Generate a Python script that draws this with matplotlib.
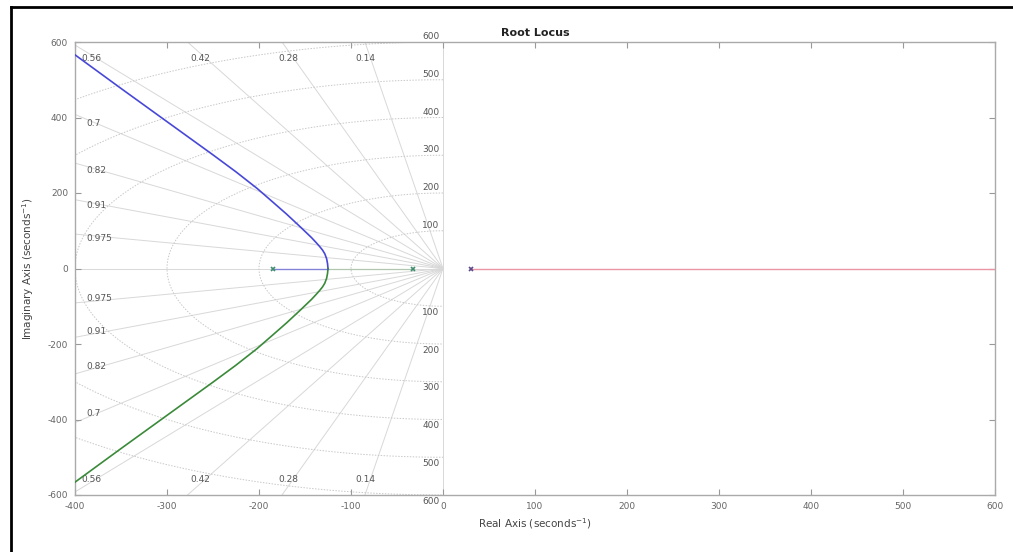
import numpy as np
import matplotlib.pyplot as plt
from matplotlib.lines import Line2D

plt.rcParams['font.family'] = ['DejaVu Sans']
plt.rcParams['axes.unicode_minus'] = False

# poles (real parts) and their marker colours
pole_re = [-185, -33, 30]
pole_colors = ['#3f8f6f', '#3f8f6f', '#5a4a8a']

# upper branch (blue)
upper_re = [-125, -125.5, -126.5, -128.5, -131, -134, -138, -143, -149, -155,
            -170, -185, -202, -225, -250, -275, -300, -350, -400]
upper_im = [0, 13, 26, 39, 49, 58, 69, 82, 96, 110,
            144, 176, 212, 256, 301, 345, 389, 477, 566]
# lower branch (green)
lower_re = [-125, -125.5, -126.5, -128.5, -131, -134, -138, -143, -149, -155,
            -170, -185, -202, -225, -250, -275, -300, -350, -400]
lower_im = [0, -13, -26, -39, -49, -58, -69, -82, -96, -110,
            -144, -176, -212, -256, -301, -345, -389, -477, -566]

# real-axis parts of the branches
blue_real = [-185, -125]
green_real = [-33, -125]
red_real = [30, 600]

# grid values
zeta_vals = [0.14, 0.28, 0.42, 0.56, 0.7, 0.82, 0.91, 0.975]
zeta_labels = ['0.14', '0.28', '0.42', '0.56', '0.7', '0.82', '0.91', '0.975']
wn_vals = [100, 200, 300, 400, 500, 600]

xmin, xmax, ymin, ymax = -400, 600, -600, 600

fig = plt.figure(figsize=(10.13, 5.52), dpi=100)
ax = fig.add_axes([75 / 1013, 1 - 495 / 552, 920 / 1013, 453 / 552])

grid_c = '#d8d8d8'
# damping lines
for z in zeta_vals:
    t = np.sqrt(1 - z ** 2) / z
    for s in (1, -1):
        ax.plot([0, -2000], [0, s * 2000 * t], color=grid_c, lw=0.7, zorder=1)
ax.plot([xmin, 0], [0, 0], color=grid_c, lw=0.7, zorder=1)
ax.plot([0, 0], [ymin, ymax], color=grid_c, lw=0.7, zorder=1)

# natural frequency semicircles
th = np.linspace(np.pi / 2, 3 * np.pi / 2, 300)
for wn in wn_vals:
    ax.plot(wn * np.cos(th), wn * np.sin(th), color='#c8c8c8', lw=0.7,
            ls=(0, (1.5, 1.5)), zorder=1)

lab_c = '#555555'
fs = 6.5
# damping labels
for z, lab in zip(zeta_vals, zeta_labels):
    t = np.sqrt(1 - z ** 2) / z
    x_top = -557 / t
    if x_top > -385:
        ax.text(x_top - 6, 557, lab, ha='center', va='center', fontsize=fs, color=lab_c)
        ax.text(x_top - 6, -560, lab, ha='center', va='center', fontsize=fs, color=lab_c)
    else:
        yy = min(385 * t - 8, 557)
        ax.text(-388, yy, lab, ha='left', va='center', fontsize=fs, color=lab_c)
        ax.text(-388, -yy, lab, ha='left', va='center', fontsize=fs, color=lab_c)

# frequency labels along the imaginary axis
for wn in wn_vals:
    ax.text(-4, wn + 14, str(wn), ha='right', va='center', fontsize=fs, color=lab_c)
    ax.text(-4, -wn - 16, str(wn), ha='right', va='center', fontsize=fs, color=lab_c)

# locus branches
blue = '#4848d8'
green = '#3a8a3a'
red = '#ec94a4'
ax.plot(upper_re, upper_im, color=blue, lw=1.2, zorder=3)
ax.plot(lower_re, lower_im, color=green, lw=1.2, zorder=3)
ax.plot(blue_real, [0, 0], color=blue, lw=1.0, alpha=0.6, zorder=3)
ax.plot(green_real, [0, 0], color=green, lw=1.0, alpha=0.25, zorder=3)
ax.plot(red_real, [0, 0], color=red, lw=1.0, zorder=3)
for p, c in zip(pole_re, pole_colors):
    ax.plot(p, 0, marker='x', ms=3.5, mew=1.2, color=c, zorder=4)

ax.set_xlim(xmin, xmax)
ax.set_ylim(ymin, ymax)
ax.set_xticks(np.arange(-400, 601, 100))
ax.set_yticks(np.arange(-600, 601, 200))
ax.tick_params(direction='in', length=4, width=0.8, colors='#999999',
               labelcolor='#666666', labelsize=6.5, top=True, right=True, pad=5)
for sp in ax.spines.values():
    sp.set_color('#aaaaaa')
    sp.set_linewidth(1.0)

ax.set_title('Root Locus', fontsize=8, fontweight='bold', color='#222222', pad=4)
ax.set_xlabel('Real Axis (seconds$^{-1}$)', fontsize=7.5, color='#444444', labelpad=4)
ax.set_ylabel('Imaginary Axis (seconds$^{-1}$)', fontsize=7.5, color='#444444', labelpad=8)

# black frame (left and top edges)
fig.add_artist(Line2D([11 / 1013, 11 / 1013], [0, 1 - 7 / 552], color='black', lw=2,
                      transform=fig.transFigure))
fig.add_artist(Line2D([11 / 1013, 1], [1 - 7 / 552, 1 - 7 / 552], color='black', lw=2,
                      transform=fig.transFigure))

fig.savefig('out.png', dpi=100)
